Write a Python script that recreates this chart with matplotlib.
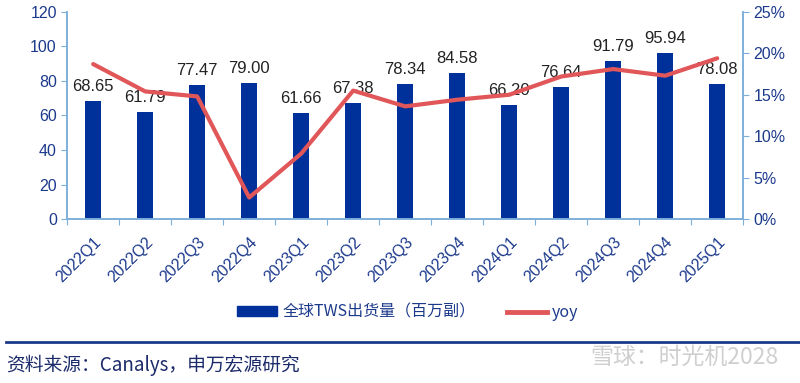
import matplotlib.pyplot as plt
from matplotlib.lines import Line2D
from matplotlib.patches import Patch
from matplotlib.ticker import PercentFormatter

plt.rcParams['font.family'] = ['Liberation Sans', 'Noto Sans CJK SC', 'DejaVu Sans']

quarters = ['2022Q1', '2022Q2', '2022Q3', '2022Q4', '2023Q1', '2023Q2', '2023Q3',
            '2023Q4', '2024Q1', '2024Q2', '2024Q3', '2024Q4', '2025Q1']
shipments = [68.65, 61.79, 77.47, 79.00, 61.66, 67.38, 78.34,
             84.58, 66.20, 76.64, 91.79, 95.94, 78.08]
yoy = [18.7, 15.4, 14.8, 2.6, 7.9, 15.5, 13.6,
       14.4, 15.0, 17.2, 18.1, 17.3, 19.4]

navy = '#00309a'
red = '#e15759'
spine_c = '#7fb0dc'
tick_c = '#1c3a8c'
cjk = ['Noto Sans CJK SC', 'DejaVu Sans']

fig = plt.figure(figsize=(8, 3.83), dpi=100)
ax = fig.add_axes([0.084, 0.428, 0.845, 0.541])
ax2 = ax.twinx()

x = range(len(quarters))
ax.bar(x, shipments, width=0.31, color=navy, zorder=2)
for xi, v in zip(x, shipments):
    ax.annotate(f'{v:.2f}', (xi, v), xytext=(0, 5), textcoords='offset points',
                ha='center', va='bottom', fontsize=12, color='#222222', zorder=5)

ax2.plot(x, yoy, color=red, lw=3, solid_capstyle='round', zorder=3)

ax.set_xlim(-0.5, len(quarters) - 0.5)
ax.set_ylim(0, 120)
ax.set_yticks(range(0, 121, 20))
ax2.set_ylim(0, 25)
ax2.set_yticks(range(0, 26, 5))
ax2.yaxis.set_major_formatter(PercentFormatter(decimals=0))

# boundary ticks, labels centred on the bars
ax.set_xticks([i - 0.5 for i in range(len(quarters) + 1)])
ax.set_xticklabels([])
ax.set_xticks(list(x), minor=True)
ax.set_xticklabels(quarters, minor=True, rotation=45, ha='right',
                   rotation_mode='anchor', fontsize=11.5, color=tick_c)
ax.tick_params(axis='x', which='minor', length=0, pad=11)
ax.tick_params(axis='x', which='major', length=4, color=spine_c, direction='out')
ax.tick_params(axis='y', labelsize=11.5, colors=tick_c, length=4, direction='out')
ax.tick_params(axis='y', color=spine_c)
ax2.tick_params(axis='y', labelsize=11.5, colors=tick_c, length=4, direction='out')
ax2.tick_params(axis='y', color=spine_c)

for a in (ax, ax2):
    a.spines['top'].set_visible(False)
    for s in ['left', 'right', 'bottom']:
        a.spines[s].set_color(spine_c)
        a.spines[s].set_linewidth(1.2)

ax.set_zorder(ax2.get_zorder() - 1)
ax2.patch.set_visible(False)
ax.patch.set_visible(False)

handles = [Patch(color=navy), Line2D([], [], color=red, lw=3.5)]
fig.legend(handles, ['全球TWS出货量（百万副）', 'yoy'], loc='center',
           bbox_to_anchor=(0.51, 0.185), ncol=2, frameon=False,
           handlelength=2.5, handleheight=0.5, columnspacing=2.0, handletextpad=0.3,
           prop={'family': cjk, 'size': 11.5}, labelcolor=tick_c)

fig.add_artist(Line2D([0.008, 1.0], [0.107, 0.107], color='#1c3a8c', lw=2))
fig.text(0.008, 0.047, '资料来源：Canalys，申万宏源研究', fontsize=13.5, va='center',
         family=cjk, color='#1a2a6a')
fig.text(0.973, 0.068, '雪球：时光机2028', fontsize=16.5, va='center', ha='right',
         family=cjk, color='#cfcfcf')

fig.savefig('out.png', dpi=100)
